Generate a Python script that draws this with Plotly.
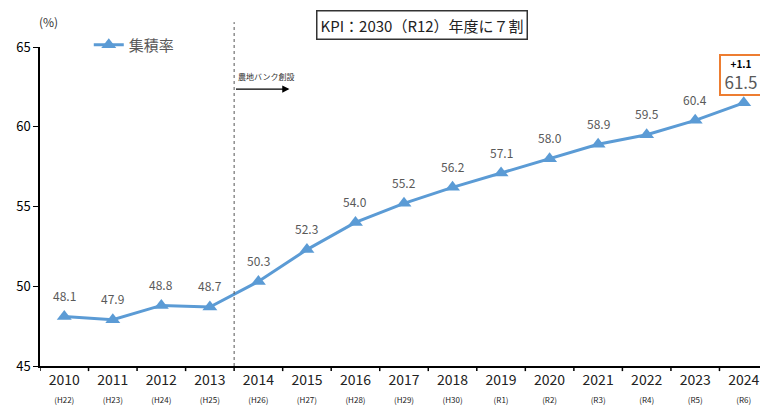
import plotly.graph_objects as go

years = ["2010","2011","2012","2013","2014","2015","2016","2017","2018","2019","2020","2021","2022","2023","2024"]
eras = ["H22","H23","H24","H25","H26","H27","H28","H29","H30","R1","R2","R3","R4","R5","R6"]
rate = [48.1, 47.9, 48.8, 48.7, 50.3, 52.3, 54.0, 55.2, 56.2, 57.1, 58.0, 58.9, 59.5, 60.4, 61.5]
last_change = "+1.1"

FONT = "Noto Sans CJK JP"
BLUE = "#5B9BD5"
GRAY = "#595959"

ticktext = [f"{y}<br><span style='font-size:8px'>({e})</span>" for y, e in zip(years, eras)]
idx = list(range(len(years)))

fig = go.Figure()
fig.add_trace(go.Scatter(
    x=idx, y=rate, mode="lines+markers", name="集積率",
    line=dict(color=BLUE, width=3),
    marker=dict(symbol="triangle-up", size=13, color=BLUE),
))

annotations = []
for i, v in zip(idx, rate):
    if i == len(years) - 1:
        annotations.append(dict(
            x=i, y=v, xref="x", yref="y", yshift=28, xshift=-3, showarrow=False,
            text=f"<b><span style='font-size:10px;color:#000'>{last_change}</span></b><br><span style='font-size:17px'>{v:.1f}</span>",
            font=dict(family=FONT, size=16, color=GRAY),
            width=38, height=36, align="center", valign="middle",
            bordercolor="#ED7D31", borderwidth=2, borderpad=1, bgcolor="white",
        ))
    else:
        annotations.append(dict(
            x=i, y=v, xref="x", yref="y", yshift=21, showarrow=False,
            text=f"{v:.1f}", font=dict(family=FONT, size=12, color=GRAY),
        ))

annotations += [
    dict(x=-0.004, y=1.08, xref="paper", yref="paper", text="(%)", showarrow=False,
         xanchor="left", yanchor="middle", font=dict(family=FONT, size=12, color="#333")),
    dict(x=0.525, y=1.0685, xref="paper", yref="paper", showarrow=False,
         text="KPI：2030（R12）年度に７割", font=dict(family=FONT, size=15, color="#222"),
         bordercolor="#333", borderwidth=1.5, borderpad=3, xanchor="center", yanchor="middle",
         bgcolor="white"),
    dict(x=3.5, y=0.885, xref="x", yref="paper", showarrow=False, xanchor="left",
         yanchor="bottom", xshift=2,
         text="農地バンク創設", font=dict(family=FONT, size=8, color="#333")),
    dict(x=4.64, y=0.868, xref="x", yref="paper", ax=-55, ay=0, axref="pixel", ayref="pixel",
         showarrow=True, arrowhead=2, arrowsize=1.2, arrowwidth=1.2, arrowcolor="#000", text=""),
]

fig.add_shape(type="line", x0=3.5, x1=3.5, xref="x", y0=0, y1=1.078, yref="paper",
              line=dict(color="#555", width=1, dash="dot"))

fig.update_layout(
    width=760, height=397,
    margin=dict(l=32, r=0, t=39, b=37),
    paper_bgcolor="white", plot_bgcolor="white",
    font=dict(family=FONT, color="#222"),
    annotations=annotations,
    showlegend=True,
    legend=dict(x=0.067, y=1.006, xanchor="left", yanchor="middle", bgcolor="rgba(0,0,0,0)",
                font=dict(family=FONT, size=15, color=GRAY)),
    xaxis=dict(range=[-0.5, 14.5], tickvals=idx, ticktext=ticktext,
               ticks="", showline=True, linecolor="#000", linewidth=1.5, showgrid=False,
               zeroline=False, tickfont=dict(family=FONT, size=14, color="#222")),
    yaxis=dict(range=[45, 65], tickvals=[45, 50, 55, 60, 65], ticks="outside", ticklen=5,
               tickcolor="#000", showline=True, linecolor="#000", linewidth=1.5, showgrid=False,
               zeroline=False, tickfont=dict(family=FONT, size=13, color="#000")),
)

# boundary tick marks on the category axis
for b in [i - 0.5 for i in idx] + [len(idx) - 0.5]:
    fig.add_shape(type="line", x0=b, x1=b, xref="x", y0=0, y1=-0.016, yref="paper",
                  line=dict(color="#000", width=1.5))

fig.write_html("out.html")
